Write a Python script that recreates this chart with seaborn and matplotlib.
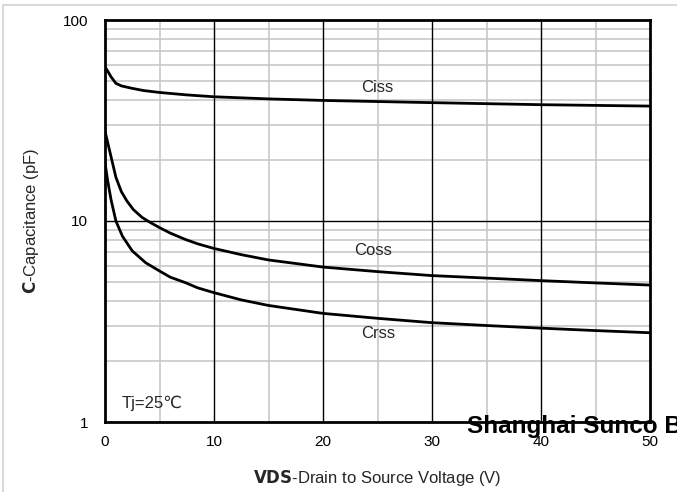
import numpy as np
import pandas as pd
import matplotlib
matplotlib.use("Agg")
import matplotlib.pyplot as plt
import seaborn as sns
from matplotlib.ticker import FixedLocator, NullFormatter

# ---- data ----
ciss_v = [0, 0.55, 1.0, 1.5, 2.5, 3.5, 5, 7.5, 10, 15, 20, 30, 40, 50]
ciss_c = [58.6, 52.2, 48.4, 47.0, 45.7, 44.6, 43.6, 42.4, 41.5, 40.5, 39.8, 38.8, 37.9, 37.3]

coss_v = [0, 0.5, 1.0, 1.5, 2.0, 2.6, 3.42, 4.2, 5, 6, 7.36, 8.5, 10,
          12.5, 15, 20, 25, 30, 35, 40, 45, 50]
coss_c = [28, 21.5, 16.5, 14.0, 12.6, 11.4, 10.4, 9.8, 9.27, 8.7, 8.1, 7.7, 7.3,
          6.8, 6.4, 5.9, 5.6, 5.35, 5.2, 5.05, 4.92, 4.8]

crss_v = [0, 0.25, 0.55, 1.0, 1.6, 2.5, 3.73, 5, 6, 7.36, 8.5, 10, 12.5, 15,
          20, 25, 30, 35, 40, 45, 50]
crss_c = [19.5, 15.8, 12.8, 10, 8.4, 7.1, 6.2, 5.64, 5.25, 4.94, 4.65, 4.4, 4.05, 3.8,
          3.47, 3.28, 3.12, 3.02, 2.93, 2.85, 2.78]

x_ticks = [0, 10, 20, 30, 40, 50]
y_ticks = [1, 10, 100]
y_tick_labels = ["1", "10", "100"]

df = pd.concat([
    pd.DataFrame({"V": ciss_v, "C": ciss_c, "s": "Ciss"}),
    pd.DataFrame({"V": coss_v, "C": coss_c, "s": "Coss"}),
    pd.DataFrame({"V": crss_v, "C": crss_c, "s": "Crss"}),
])

sns.set_style("white")
plt.rcParams["font.family"] = ["Liberation Sans", "DejaVu Sans"]

fig = plt.figure(figsize=(6.77, 4.92), dpi=100)
ax = fig.add_axes([105 / 677, 70 / 492, 545 / 677, 402 / 492])

sns.lineplot(data=df, x="V", y="C", units="s", estimator=None, sort=False,
             color="black", linewidth=2.0, ax=ax, legend=False, zorder=3)

ax.set_yscale("log")
ax.set_xlim(0, 50)
ax.set_ylim(1, 100)

# grids
minor_x = [5, 15, 25, 35, 45]
major_x = [10, 20, 30, 40]
minor_y = [k * d for d in (1, 10) for k in range(2, 10)]
for v in minor_x:
    ax.axvline(v, color="#c8c8c8", lw=1.2, zorder=1)
for v in minor_y:
    ax.axhline(v, color="#c8c8c8", lw=1.2, zorder=1)
for v in major_x:
    ax.axvline(v, color="black", lw=1.0, zorder=2)
ax.axhline(10, color="black", lw=1.0, zorder=2)

ax.xaxis.set_major_locator(FixedLocator(x_ticks))
ax.set_xticklabels([str(t) for t in x_ticks])
ax.yaxis.set_major_locator(FixedLocator(y_ticks))
ax.yaxis.set_minor_locator(FixedLocator([]))
ax.yaxis.set_minor_formatter(NullFormatter())
ax.set_yticklabels(y_tick_labels)
ax.tick_params(axis="both", length=0, labelsize=11, colors="black")
ax.tick_params(axis="x", pad=9)
ax.tick_params(axis="y", pad=12)

for sp in ax.spines.values():
    sp.set_visible(True)
    sp.set_color("black")
    sp.set_linewidth(2.0)
    sp.set_zorder(4)

ax.set_xlabel(r"$\bf{VDS}$-Drain to Source Voltage (V)", fontsize=12, labelpad=14)
ax.set_ylabel(r"$\bf{C}$-Capacitance (pF)", fontsize=12, labelpad=16)

# annotations
ax.text(25.0, 46.4, "Ciss", fontsize=12, ha="center", va="center")
ax.text(24.6, 7.17, "Coss", fontsize=12, ha="center", va="center")
ax.text(25.1, 2.77, "Crss", fontsize=12, ha="center", va="center")
ax.text(1.55, 1.243, "Tj=25℃", fontsize=12, ha="left", va="center")

# watermark
fig.text(467 / 677, 1 - 433.5 / 492, "Shanghai Sunco B", fontsize=17.5,
         fontweight="bold", ha="left", va="baseline", color="black", zorder=10)

# light figure border
fig.patches.append(plt.Rectangle((3 / 677, -0.1), 1.2, 1 - 5 / 492 + 0.1,
                                 transform=fig.transFigure, fill=False,
                                 edgecolor="#d9d9d9", lw=1.5))

fig.savefig("out.png", dpi=100)
